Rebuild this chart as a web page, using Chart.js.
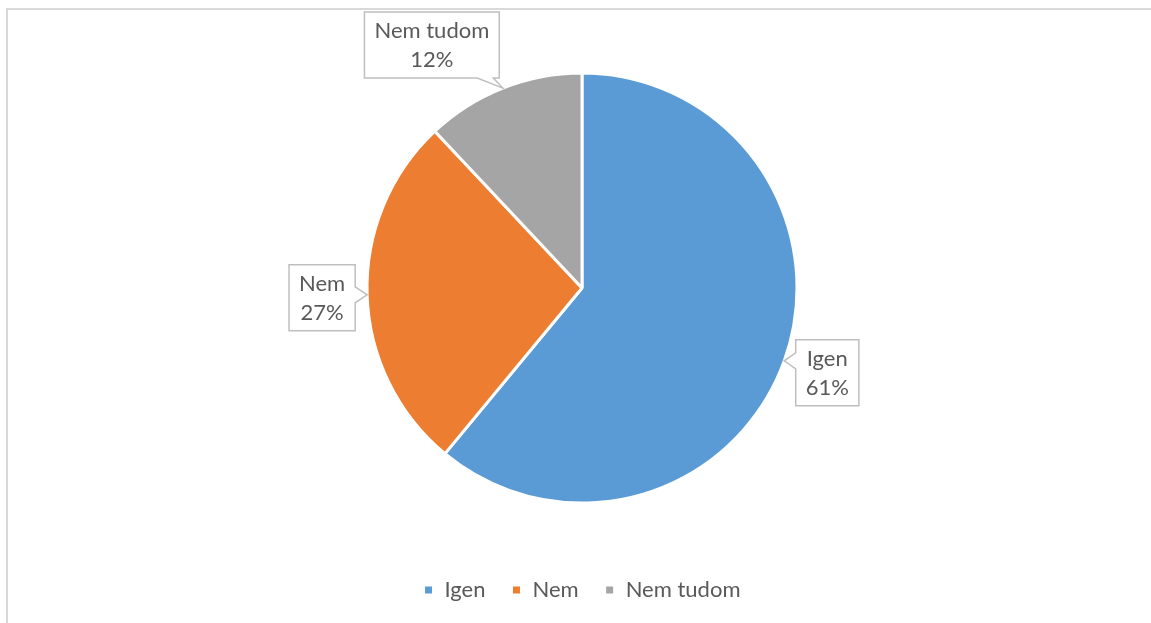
<!DOCTYPE html>
<html>
<head>
<meta charset="utf-8">
<script src="https://cdn.jsdelivr.net/npm/chart.js@4/dist/chart.umd.min.js"></script>
<style>
  html, body { margin: 0; padding: 0; background: #fff; overflow: hidden; }
  #wrap { position: relative; width: 1151px; height: 623px; }
  #frame { position: absolute; left: 6px; top: 8px; width: 1200px; height: 700px;
           border-left: 2px solid #D9D9D9; border-top: 2px solid #D9D9D9; }
  #pieCanvas { position: absolute; left: 0; top: 0; }
</style>
</head>
<body>
<div id="wrap">
  <div id="frame"></div>
  <canvas id="pieCanvas" width="1151" height="623"></canvas>
</div>
<script>
// adatok
const labels = ['Igen', 'Nem', 'Nem tudom'];
const values = [61, 27, 12];
const colors = ['#5B9BD5', '#ED7D31', '#A5A5A5'];

const FONT = 'Lato, "Open Sans", sans-serif';
const TEXT_COLOR = '#595959';

// címke dobozok eltolása a szelet szélétől (px)
const calloutOffsets = [[43, 12], [-45, 3], [-71, -43]];

const calloutPlugin = {
    id: 'callouts',
    afterDatasetsDraw(chart) {
        const ctx = chart.ctx;
        const meta = chart.getDatasetMeta(0);
        ctx.save();
        ctx.font = '22px ' + FONT;
        meta.data.forEach((arc, i) => {
            const p = arc.getProps(['x', 'y', 'startAngle', 'endAngle', 'outerRadius'], true);
            const mid = (p.startAngle + p.endAngle) / 2;
            const tx = p.x + p.outerRadius * Math.cos(mid);
            const ty = p.y + p.outerRadius * Math.sin(mid);
            const lines = [chart.data.labels[i], values[i] + '%'];
            const w = Math.max(...lines.map(l => ctx.measureText(l).width)) + 20;
            const h = 66;
            const cx = tx + calloutOffsets[i][0];
            const cy = ty + calloutOffsets[i][1];
            const L = cx - w / 2, R = cx + w / 2, T = cy - h / 2, B = cy + h / 2;

            // melyik oldalra kerül a csőr
            const over = {
                left: L - tx, right: tx - R, top: T - ty, bottom: ty - B
            };
            let side = 'left', best = -Infinity;
            for (const k in over) { if (over[k] > best) { best = over[k]; side = k; } }
            const clamp = (v, a, b) => Math.max(a, Math.min(b, v));
            const hw = 8;
            const pts = [];
            pts.push([L, T]);
            if (side === 'top') { const c = clamp(tx, L + 14, R - 14); pts.push([c - hw, T], [tx, ty], [c + hw, T]); }
            pts.push([R, T]);
            if (side === 'right') { const c = clamp(ty, T + 14, B - 14); pts.push([R, c - hw], [tx, ty], [R, c + hw]); }
            pts.push([R, B]);
            if (side === 'bottom') { const c = clamp(tx, L + 14, R - 14); pts.push([c + hw, B], [tx, ty], [c - hw, B]); }
            pts.push([L, B]);
            if (side === 'left') { const c = clamp(ty, T + 14, B - 14); pts.push([L, c + hw], [tx, ty], [L, c - hw]); }

            ctx.beginPath();
            pts.forEach((pt, j) => j ? ctx.lineTo(pt[0], pt[1]) : ctx.moveTo(pt[0], pt[1]));
            ctx.closePath();
            ctx.fillStyle = '#fff';
            ctx.fill();
            ctx.lineWidth = 1.5;
            ctx.strokeStyle = '#BFBFBF';
            ctx.stroke();

            ctx.fillStyle = TEXT_COLOR;
            ctx.textAlign = 'center';
            ctx.textBaseline = 'middle';
            ctx.fillText(lines[0], cx, cy - 14);
            ctx.fillText(lines[1], cx, cy + 15);
        });
        ctx.restore();
    }
};

new Chart(document.getElementById('pieCanvas').getContext('2d'), {
    type: 'pie',
    data: {
        labels: labels,
        datasets: [{
            data: values,
            backgroundColor: colors,
            borderColor: '#ffffff',
            borderWidth: 3,
            radius: 215
        }]
    },
    options: {
        responsive: false,
        animation: false,
        layout: { padding: { left: 13, top: 23, bottom: 12 } },
        plugins: {
            tooltip: { enabled: false },
            legend: {
                position: 'bottom',
                labels: {
                    font: { family: FONT, size: 22 },
                    color: TEXT_COLOR,
                    boxWidth: 10,
                    boxHeight: 10,
                    padding: 26
                }
            }
        }
    },
    plugins: [calloutPlugin]
});
</script>
</body>
</html>
